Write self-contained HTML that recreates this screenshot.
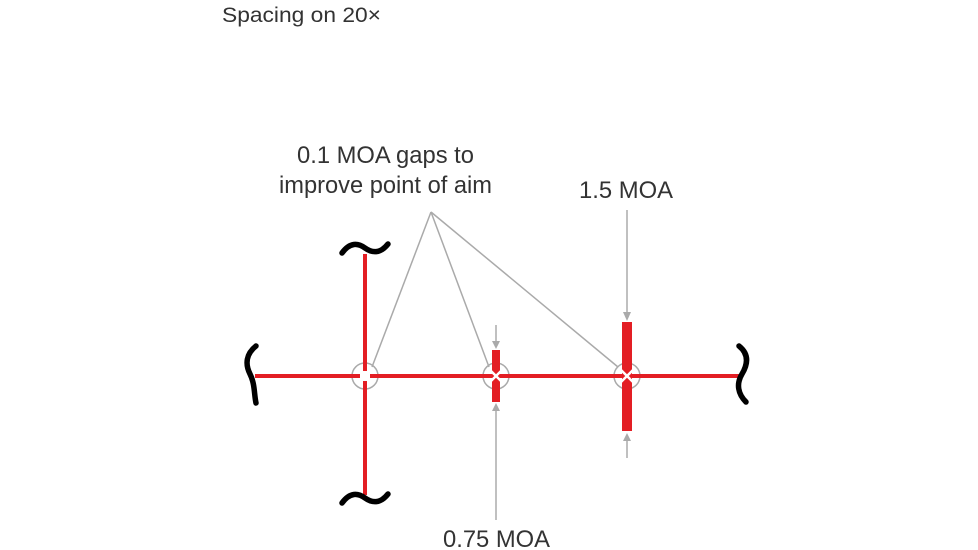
<!DOCTYPE html>
<html><head><meta charset="utf-8"><style>
html,body{margin:0;padding:0;background:#fff;}
svg{display:block;}
text{font-family:"Liberation Sans",sans-serif;fill:#333;}
</style></head><body>
<svg width="978" height="550" viewBox="0 0 978 550">
<text x="222" y="22" font-size="21" textLength="159" lengthAdjust="spacingAndGlyphs">Spacing on 20×</text>
<text x="297" y="163" font-size="24" textLength="177" lengthAdjust="spacingAndGlyphs">0.1 MOA gaps to</text>
<text x="279" y="193" font-size="24" textLength="213" lengthAdjust="spacingAndGlyphs">improve point of aim</text>
<text x="579" y="198" font-size="24" textLength="94" lengthAdjust="spacingAndGlyphs">1.5 MOA</text>
<text x="443" y="547" font-size="24" textLength="107" lengthAdjust="spacingAndGlyphs">0.75 MOA</text>

<g stroke="#aaa" stroke-width="1.5" fill="none">
<line x1="431" y1="212" x2="372" y2="367"/>
<line x1="431" y1="212" x2="489" y2="367"/>
<line x1="431" y1="212" x2="618" y2="367"/>
<line x1="627" y1="210" x2="627" y2="318"/>
<line x1="627" y1="437" x2="627" y2="458"/>
<line x1="496" y1="325" x2="496" y2="346"/>
<line x1="496" y1="406" x2="496" y2="520"/>
<circle cx="365" cy="376" r="13"/>
<circle cx="496" cy="376" r="13"/>
<circle cx="627" cy="376" r="13"/>
</g>
<g fill="#aaa">
<polygon points="623,312 631,312 627,321"/>
<polygon points="623,441 631,441 627,433"/>
<polygon points="492,341 500,341 496,349"/>
<polygon points="492,411 500,411 496,403"/>
</g>

<g stroke="#e31e24" stroke-width="4">
<line x1="255" y1="376" x2="360" y2="376"/>
<line x1="370" y1="376" x2="740" y2="376"/>
<line x1="365" y1="254" x2="365" y2="371"/>
<line x1="365" y1="381" x2="365" y2="495"/>
</g>
<rect x="492" y="350" width="8" height="52" fill="#e31e24"/>
<rect x="622" y="322" width="10" height="109" fill="#e31e24"/>
<g stroke="#fff" stroke-width="2.5">
<line x1="491" y1="371" x2="501" y2="381"/>
<line x1="501" y1="371" x2="491" y2="381"/>
<line x1="621" y1="370" x2="633" y2="382"/>
<line x1="633" y1="370" x2="621" y2="382"/>
</g>

<g stroke="#000" stroke-width="5.5" fill="none" stroke-linecap="round">
<path d="M342,253 C350,242 358,243 365,248 C372,253 380,254 388,244"/>
<path d="M342,503 C350,492 358,493 365,498 C372,503 380,504 388,494"/>
<path d="M256,346 C246,354 245,364 250,374 C255,384 254,394 256,403"/>
<path d="M739,346 C749,354 748,364 742,374 C736,384 738,394 746,402"/>
</g>
</svg>
</body></html>
